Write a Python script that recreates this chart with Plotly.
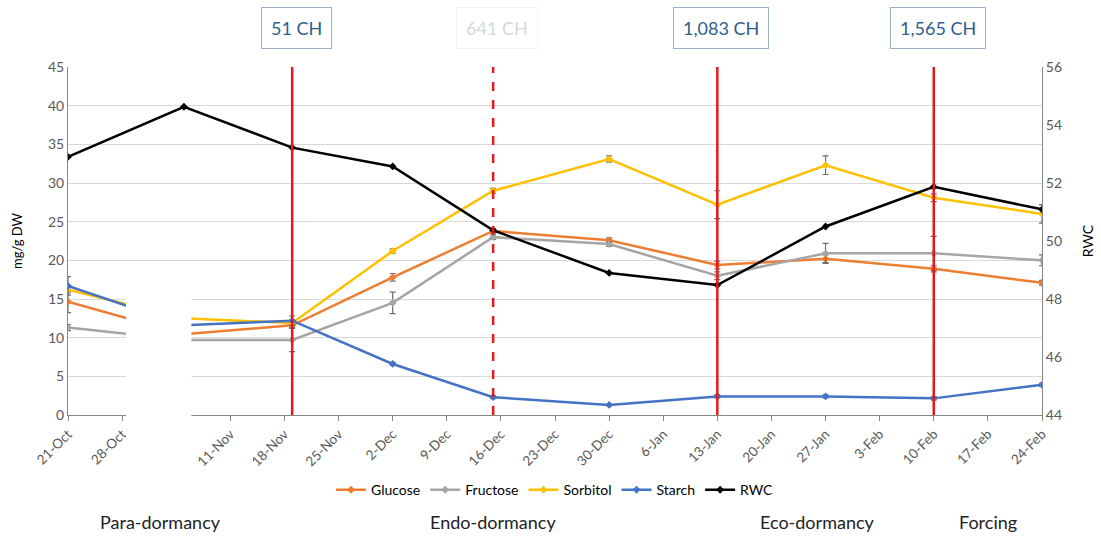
import pandas as pd
import plotly.graph_objects as go
from plotly.subplots import make_subplots

# Sampling dates (season 2016/17)
dates = ["2016-10-21", "2016-11-05", "2016-11-19", "2016-12-02", "2016-12-15",
         "2016-12-30", "2017-01-13", "2017-01-27", "2017-02-10", "2017-02-24"]

glucose = [14.65, 10.45, 11.6, 17.8, 23.8, 22.6, 19.4, 20.2, 18.9, 17.1]
glucose_err = [1.4, 0, 0.3, 0.5, 0.3, 0.3, 0.5, 0.5, 0.4, 0.3]
fructose = [11.3, 9.7, 9.7, 14.5, 23.0, 22.1, 18.0, 20.9, 20.9, 20.0]
fructose_err = [0.4, 0, 1.5, 1.4, 0.3, 0.3, 0.5, 1.3, 2.2, 0.7]
sorbitol = [16.2, 12.5, 11.9, 21.2, 29.0, 33.1, 27.2, 32.3, 28.1, 26.0]
sorbitol_err = [0.4, 0, 0.3, 0.3, 0.3, 0.4, 1.8, 1.2, 0.5, 1.2]
starch = [16.7, 11.6, 12.2, 6.6, 2.3, 1.3, 2.4, 2.4, 2.15, 3.9]
starch_err = [1.2, 0, 0.6, 0.2, 0.2, 0.1, 0.2, 0.2, 0.2, 0.2]
rwc = [52.9, 54.63, 53.22, 52.57, 50.37, 48.9, 48.48, 50.5, 51.87, 51.09]

# Chilling-hour milestones
ch_dates = ["2016-11-19", "2016-12-15", "2017-01-13", "2017-02-10"]
ch_labels = ["51 CH", "641 CH", "1,083 CH", "1,565 CH"]
ch_dashed = [False, True, False, False]
ch_faded = [False, True, False, False]

# Dormancy phases along the bottom
phase_labels = ["Para-dormancy", "Endo-dormancy", "Eco-dormancy", "Forcing"]
phase_dates = ["2016-11-02", "2016-12-15", "2017-01-26", "2017-02-17"]

# Interval with no sugar measurements shown
gap = ["2016-10-28 12:00", "2016-11-05 23:00"]

x_range = ["2016-10-21", "2017-02-24"]

FONT = "Lato"
GREY = "#595959"

fig = make_subplots(specs=[[{"secondary_y": True}]])

sugars = [
    ("Glucose", glucose, glucose_err, "#ED7D31"),
    ("Fructose", fructose, fructose_err, "#A5A5A5"),
    ("Sorbitol", sorbitol, sorbitol_err, "#FFC000"),
    ("Starch", starch, starch_err, "#4472C4"),
]
for name, vals, err, col in sugars:
    fig.add_trace(go.Scatter(
        x=dates, y=vals, name=name, mode="lines+markers",
        line=dict(color=col, width=2.5),
        marker=dict(symbol="diamond", size=6, color=col),
        error_y=dict(type="data", array=err, visible=True,
                     color="#6d6d6d", thickness=1.2, width=3),
    ), secondary_y=False)

fig.add_trace(go.Scatter(
    x=dates, y=rwc, name="RWC", mode="lines+markers",
    line=dict(color="black", width=2.5),
    marker=dict(symbol="diamond", size=6, color="black"),
), secondary_y=True)

# Milestone lines and their labels
x0 = pd.Timestamp(x_range[0])
x1 = pd.Timestamp(x_range[1])


def paper_x(d):
    return (pd.Timestamp(d) - x0) / (x1 - x0)


for d, lab, dashed, faded in zip(ch_dates, ch_labels, ch_dashed, ch_faded):
    fig.add_shape(type="line", xref="x", yref="paper", x0=d, x1=d, y0=0, y1=1,
                  line=dict(color="#E3191C", width=2.5,
                            dash="dash" if dashed else "solid"),
                  layer="above")
    fig.add_annotation(
        x=d, xref="x", y=1.112, yref="paper", text=lab, showarrow=False,
        xanchor="center", yanchor="middle", xshift=4,
        font=dict(family=FONT, size=18,
                  color="#D4D8DC" if faded else "#2F5D8C"),
        bordercolor="#EEF0F2" if faded else "#9BB0C6", borderwidth=1,
        borderpad=9, bgcolor="white",
    )

for lab, d in zip(phase_labels, phase_dates):
    fig.add_annotation(x=d, xref="x", y=-0.307, yref="paper", text=lab,
                       showarrow=False, xanchor="center", yanchor="middle",
                       font=dict(family=FONT, size=18, color="#222222"))

# Blank out the unsampled interval
fig.add_shape(type="rect", xref="paper", yref="paper",
              x0=paper_x(gap[0]), x1=paper_x(gap[1]), y0=-0.19, y1=0.388,
              fillcolor="white", line=dict(width=0), layer="above")

fig.update_xaxes(
    type="date", range=x_range, tick0=x_range[0], dtick=7 * 86400000,
    domain=[0, 1],
    tickformat="%-d-%b", tickangle=-45, showgrid=False, automargin=False,
    showline=True, linecolor="#868686", linewidth=1,
    ticks="outside", ticklen=5, tickcolor="#868686",
    tickfont=dict(family=FONT, size=13.5, color=GREY),
)
fig.update_yaxes(
    range=[0, 45], dtick=5, showgrid=True, gridcolor="#D9D9D9",
    showline=True, linecolor="#868686", zeroline=False, ticks="",
    automargin=False,
    tickfont=dict(family=FONT, size=14, color=GREY),
    title=dict(text="mg/g DW", font=dict(family=FONT, size=13, color="black"),
               standoff=22),
    secondary_y=False,
)
fig.update_yaxes(
    range=[44, 56], dtick=2, showgrid=False, zeroline=False,
    showline=True, linecolor="#868686", ticks="", automargin=False,
    tickfont=dict(family=FONT, size=14, color=GREY),
    title=dict(text="RWC", font=dict(family=FONT, size=14, color="black"),
               standoff=22),
    secondary_y=True,
)

fig.update_layout(
    width=1101, height=536,
    margin=dict(l=68, r=59, t=67, b=121),
    paper_bgcolor="white", plot_bgcolor="white",
    showlegend=True,
    legend=dict(orientation="h", x=0.5, xanchor="center", y=-0.216,
                yanchor="middle", font=dict(family=FONT, size=14, color="black"),
                itemwidth=30, tracegroupgap=0),
    font=dict(family=FONT),
)

fig.write_html("out.html")
